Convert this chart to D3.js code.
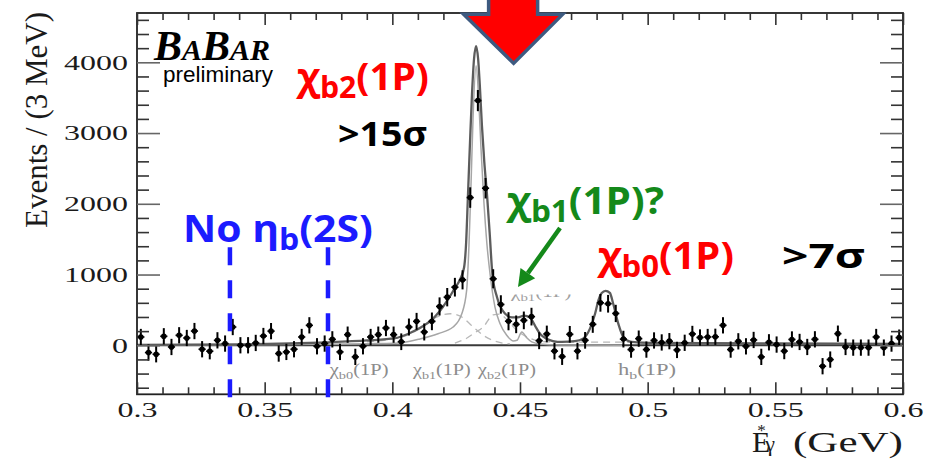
<!DOCTYPE html>
<html>
<head>
<meta charset="utf-8">
<script src="https://cdn.jsdelivr.net/npm/d3@7/dist/d3.min.js"></script>
<style>
  html, body { margin: 0; padding: 0; background: #fff; }
  svg { display: block; }
</style>
</head>
<body>
<svg id="chart" width="942" height="459"></svg>
<script>
// Photon energy spectrum, 3 MeV bins (bin centres in GeV), background subtracted
const energy = [
  0.3015,0.3045,0.3075,0.3105,0.3135,0.3165,0.3195,0.3225,0.3255,0.3285,
  0.3315,0.3345,0.3375,0.3405,0.3435,0.3465,0.3495,0.3525,0.3555,0.3585,
  0.3615,0.3645,0.3675,0.3705,0.3735,0.3765,0.3795,0.3825,0.3855,0.3885,
  0.3915,0.3945,0.3975,0.4005,0.4035,0.4065,0.4095,0.4125,0.4155,0.4185,
  0.4215,0.4245,0.4275,0.4305,0.4335,0.4365,0.4395,0.4425,0.4455,0.4485,
  0.4515,0.4545,0.4575,0.4605,0.4635,0.4665,0.4695,0.4725,0.4755,0.4785,
  0.4815,0.4845,0.4875,0.4905,0.4935,0.4965,0.4995,0.5025,0.5055,0.5085,
  0.5115,0.5145,0.5175,0.5205,0.5235,0.5265,0.5295,0.5325,0.5355,0.5385,
  0.5415,0.5445,0.5475,0.5505,0.5535,0.5565,0.5595,0.5625,0.5655,0.5685,
  0.5715,0.5745,0.5775,0.5805,0.5835,0.5865,0.5895,0.5925,0.5955,0.5985
];
const events = [
  117,-103,-127,127,-24,141,103,201,-56,-84,
  70,24,258,0,0,33,131,200,-117,-94,
  -56,117,282,-14,24,84,-94,150,-164,-14,
  117,150,244,150,50,258,338,188,338,549,
  680,821,925,2088,3459,2220,940,577,340,296,
  352,405,65,160,-82,-160,155,-82,70,296,
  600,587,450,87,-61,94,-61,68,40,58,
  -66,35,160,110,117,120,282,-61,56,-15,
  75,-164,42,10,-82,82,47,-24,84,-296,
  -202,164,-24,-33,-33,-33,117,-33,24,108
];
const errors = [
  115,115,115,115,115,115,115,115,115,115,
  115,115,115,115,115,115,115,115,115,115,
  115,115,115,115,115,115,115,115,115,115,
  115,115,115,115,118,120,120,120,125,128,
  130,132,135,145,150,145,135,130,128,125,
  125,125,120,118,118,118,118,118,118,120,
  125,125,122,118,115,115,115,115,115,115,
  115,115,115,115,115,115,115,115,115,115,
  115,115,115,115,115,115,115,115,115,115,
  115,115,115,115,115,115,115,115,115,115
];

// Fit curves sampled as [E (GeV), events]
const fitTotal = [
  [0.300,5],[0.320,8],[0.340,14],[0.360,25],[0.375,42],[0.390,68],[0.4010,100],
  [0.4061,160],[0.4093,215],[0.4124,280],[0.4151,350],[0.4183,470],[0.4213,620],
  [0.4242,790],[0.4265,930],[0.4281,1100],[0.4289,1450],[0.4296,2100],[0.4304,2850],
  [0.4312,3550],[0.4320,4050],[0.4328,4230],[0.4336,4050],[0.4343,3650],[0.4351,3100],
  [0.4360,2600],[0.4371,2120],[0.4381,1600],[0.4392,1000],[0.4410,680],[0.4441,450],
  [0.4469,395],[0.4492,395],[0.4516,420],[0.4539,390],[0.4563,250],[0.4578,165],
  [0.4602,95],[0.4629,60],[0.4664,47],[0.4715,58],[0.4747,94],[0.4774,235],[0.4794,446],
  [0.4807,634],[0.4820,740],[0.4835,770],[0.4852,740],[0.4865,587],[0.4885,305],
  [0.4905,117],[0.4937,47],[0.5009,33],[0.550,25],[0.600,20]
];
const fitSignal = [
  [0.300,3],[0.340,8],[0.370,14],[0.390,22],[0.4010,28],[0.4108,90],[0.4179,164],
  [0.4238,258],[0.4272,446],[0.4291,775],[0.4300,1400],[0.4308,2250],[0.4316,3200],
  [0.4328,3950],[0.4338,3500],[0.4347,2800],[0.4359,2000],[0.4370,1450],[0.4383,1000],
  [0.4402,540],[0.4422,305],[0.4448,141],[0.4474,61],[0.4488,70],[0.4507,188],
  [0.4526,108],[0.4546,47],[0.4578,18],[0.4657,5],[0.4900,2]
];
const fitBroad1 = [
  [0.390,50],[0.4030,110],[0.4095,211],[0.4160,376],[0.4226,446],[0.4272,399],
  [0.4317,258],[0.4356,141],[0.4409,50],[0.4461,20]
];
const fitBroad2 = [
  [0.4245,30],[0.4291,100],[0.4324,180],[0.4356,258],[0.4395,430],[0.4422,440],
  [0.4441,390],[0.4487,211],[0.4539,100],[0.4598,50],[0.4696,45],[0.4892,45],[0.5009,40]
];

const xTicksMajor = [0.3,0.35,0.4,0.45,0.5,0.55,0.6];
const xTickLabels = ["0.3","0.35","0.4","0.45","0.5","0.55","0.6"];
const xTicksMinor = [0.31,0.32,0.33,0.34,0.36,0.37,0.38,0.39,0.41,0.42,0.43,0.44,
                     0.46,0.47,0.48,0.49,0.51,0.52,0.53,0.54,0.56,0.57,0.58,0.59];
const yTicksMajor = [0,1000,2000,3000,4000];
const yTickLabels = ["0","1000","2000","3000","4000"];
const yTicksMinor = [-600,-400,-200,200,400,600,800,1200,1400,1600,1800,2200,2400,2600,
                     2800,3200,3400,3600,3800,4200,4400,4600];

// Search window for the eta_b(2S) line
const etaWindow = [0.3364, 0.3748];
// Expected line positions labelled under the zero line
const lineLabels = [
  { parts: [["χ"],["b0",1],["(1P)"]], e: 0.3755, w: 60 },
  { parts: [["χ"],["b1",1],["(1P)"]], e: 0.4081, w: 59 },
  { parts: [["χ"],["b2",1],["(1P)"]], e: 0.4336, w: 59 },
  { parts: [["h"],["b",1],["(1P)"]], e: 0.4884, w: 58 }
];

const svg = d3.select("#chart");
const L = 137, R = 903, T = 13, B = 394.3;
const x = d3.scaleLinear().domain([0.3, 0.6]).range([L, R]);
const y = d3.scaleLinear().domain([-693, 4697]).range([B, T]);

const serif = "'Liberation Serif', 'Times New Roman', serif";
const sans = "'Open Sans', 'Liberation Sans', sans-serif";

// Text with subscripts; optionally squeezed/stretched to a given width
function richText(g, s) {
  const t = g.append("text")
    .attr("x", s.x).attr("y", s.y)
    .attr("font-family", s.font).attr("font-weight", s.weight || "normal")
    .attr("font-style", s.style || "normal")
    .attr("font-size", s.size).attr("fill", s.color);
  let shift = 0;
  s.parts.forEach(([str, sub]) => {
    const ts = t.append("tspan").text(str)
      .attr("font-size", sub ? s.size * s.subScale : s.size);
    const want = sub ? s.subShift : 0;
    if (want !== shift) { ts.attr("dy", want - shift); shift = want; }
  });
  if (s.w) {
    const w = t.node().getBBox().width;
    const k = s.w / w;
    t.attr("transform", `translate(${s.x},0) scale(${k},1) translate(${-s.x},0)`);
  }
  return t;
}

const line = d3.line().x(d => x(d[0])).y(d => y(d[1])).curve(d3.curveMonotoneX);

// zero line
svg.append("line")
  .attr("x1", L).attr("x2", R).attr("y1", y(0)).attr("y2", y(0))
  .attr("stroke", "#3a3a3a").attr("stroke-width", 2);

// fit components
[fitBroad1, fitBroad2].forEach(c => {
  svg.append("path").attr("d", line(c)).attr("fill", "none")
    .attr("stroke", "#b8b8b8").attr("stroke-width", 1.3).attr("stroke-dasharray", "7,5");
});
svg.append("path").attr("d", line(fitSignal)).attr("fill", "none")
  .attr("stroke", "#a6a6a6").attr("stroke-width", 1.5);
svg.append("path").attr("d", line(fitTotal)).attr("fill", "none")
  .attr("stroke", "#5c5c5c").attr("stroke-width", 2.3);

// data points with error bars
const pts = svg.append("g").selectAll("g")
  .data(energy.map((e, i) => ({ e, v: events[i], s: errors[i] })))
  .join("g");
pts.append("line")
  .attr("x1", d => x(d.e)).attr("x2", d => x(d.e))
  .attr("y1", d => y(d.v - d.s)).attr("y2", d => y(d.v + d.s))
  .attr("stroke", "#000").attr("stroke-width", 2);
pts.append("line")
  .attr("x1", d => x(d.e) - 3.6).attr("x2", d => x(d.e) + 3.6)
  .attr("y1", d => y(d.v)).attr("y2", d => y(d.v))
  .attr("stroke", "#000").attr("stroke-width", 1.6);
pts.append("circle")
  .attr("cx", d => x(d.e)).attr("cy", d => y(d.v)).attr("r", 2.8).attr("fill", "#000");

// frame and ticks on all four sides
svg.append("rect").attr("x", L).attr("y", T).attr("width", R - L).attr("height", B - T)
  .attr("fill", "none").attr("stroke", "#222").attr("stroke-width", 1.8);

function styleAxis(g) {
  g.select(".domain").remove();
  g.selectAll(".tick line").attr("stroke", "#333").attr("stroke-width", 1.6);
}
svg.append("g").attr("transform", `translate(0,${B})`)
  .call(d3.axisBottom(x).tickValues(xTicksMinor).tickSize(-7).tickFormat("")).call(styleAxis);
svg.append("g").attr("transform", `translate(0,${T})`)
  .call(d3.axisTop(x).tickValues(xTicksMinor).tickSize(-7).tickFormat("")).call(styleAxis);
svg.append("g").attr("transform", `translate(0,${T})`)
  .call(d3.axisTop(x).tickValues(xTicksMajor).tickSize(-12).tickFormat("")).call(styleAxis);
const xAxis = svg.append("g").attr("transform", `translate(0,${B})`)
  .call(d3.axisBottom(x).tickValues(xTicksMajor).tickSize(-12)
    .tickFormat((d, i) => xTickLabels[i])).call(styleAxis);
xAxis.selectAll("text").attr("y", 0).attr("dy", 0)
  .attr("transform", "translate(0,23) scale(1.6,1)")
  .attr("font-family", serif).attr("font-size", 20).attr("fill", "#1a1a1a");

svg.append("g").attr("transform", `translate(${L},0)`)
  .call(d3.axisLeft(y).tickValues(yTicksMinor).tickSize(-12).tickFormat("")).call(styleAxis);
svg.append("g").attr("transform", `translate(${R},0)`)
  .call(d3.axisRight(y).tickValues(yTicksMinor).tickSize(-12).tickFormat("")).call(styleAxis);
svg.append("g").attr("transform", `translate(${R},0)`)
  .call(d3.axisRight(y).tickValues(yTicksMajor).tickSize(-23).tickFormat("")).call(styleAxis)
  .selectAll(".tick line").attr("stroke", "#666");
const yAxis = svg.append("g").attr("transform", `translate(${L},0)`)
  .call(d3.axisLeft(y).tickValues(yTicksMajor).tickSize(-23)
    .tickFormat((d, i) => yTickLabels[i])).call(styleAxis);
yAxis.selectAll(".tick line").attr("stroke", "#666");
yAxis.selectAll("text").attr("x", 0).attr("dy", "0.34em")
  .attr("transform", "translate(-9,0) scale(1.6,1)")
  .attr("font-family", serif).attr("font-size", 20).attr("fill", "#1a1a1a");

// axis titles
svg.append("text").attr("transform", "translate(47,120) rotate(-90)")
  .attr("text-anchor", "middle").attr("font-family", serif).attr("font-size", 31)
  .attr("fill", "#1a1a1a").text("Events / (3 MeV)");
const xTitle = svg.append("text").attr("x", 752).attr("y", 452)
  .attr("font-family", serif).attr("fill", "#1a1a1a");
xTitle.append("tspan").attr("font-size", 30).text("E");
xTitle.append("tspan").attr("font-size", 17).attr("dx", -13).attr("dy", -16).text("*");
xTitle.append("tspan").attr("font-size", 22).attr("dx", -0.5).attr("dy", 15).text("γ");
richText(svg, { x: 793, y: 452, w: 110, font: serif, size: 30, color: "#1a1a1a",
  parts: [["(GeV)"]] });

// expected line labels (grey)
lineLabels.forEach(l => richText(svg, {
  x: x(l.e), y: 375, w: l.w, font: serif, size: 16, color: "#8c8c8c",
  subScale: 0.7, subShift: 4, parts: l.parts
}));
// label partly hidden behind a blank patch
svg.append("clipPath").attr("id", "hidePatch")
  .append("rect").attr("x", 500).attr("y", 294.5).attr("width", 90).attr("height", 8);
richText(svg.append("g").attr("clip-path", "url(#hidePatch)"), {
  x: 511, y: 297, w: 62, font: serif, size: 16, color: "#a0a0a0",
  subScale: 0.7, subShift: 4, parts: [["χ"],["b1",1],["(1P)"]]
});

// experiment logo
const logo = svg.append("text").attr("x", 154).attr("y", 60)
  .attr("font-family", serif).attr("font-weight", "bold").attr("font-style", "italic")
  .attr("fill", "#000");
[["B",42],["A",30],["B",42],["AR",30]].forEach(([s, fs]) =>
  logo.append("tspan").attr("font-size", fs).text(s));
svg.append("text").attr("x", 163).attr("y", 82)
  .attr("font-family", "'Liberation Sans', Arial, sans-serif").attr("font-size", 22.5)
  .attr("fill", "#000").text("preliminary");

// eta_b(2S) window markers
etaWindow.forEach(e => {
  svg.append("line").attr("x1", x(e)).attr("x2", x(e))
    .attr("y1", y(1385)).attr("y2", B + 3)
    .attr("stroke", "#1b1bff").attr("stroke-width", 4.5).attr("stroke-dasharray", "18,15");
});

// annotations
const notes = [
  { parts: [["χ"],["b2",1],["(1P)"]], x: 297, y: 90, w: 133, color: "#ff0000" },
  { parts: [[">15σ"]], x: 338, y: 146, w: 89, color: "#000000", size: 34 },
  { parts: [["χ"],["b1",1],["(1P)?"]], x: 507, y: 214, w: 158, color: "#14891a" },
  { parts: [["No η"],["b",1],["(2S)"]], x: 183, y: 242, w: 190, color: "#1b1bff" },
  { parts: [["χ"],["b0",1],["(1P)"]], x: 598, y: 269, w: 137, color: "#ff0000" },
  { parts: [[">7σ"]], x: 782, y: 268, w: 83, color: "#000000", size: 34 }
];
notes.forEach(n => richText(svg, {
  x: n.x, y: n.y, w: n.w, font: sans, weight: 700, size: n.size || 38,
  color: n.color, subScale: 0.78, subShift: 8, parts: n.parts
}));

// green pointer to the chi_b1 position
const gStart = [x(0.46567), y(1658)], gTip = [x(0.44922), y(824)];
const ang = Math.atan2(gTip[1] - gStart[1], gTip[0] - gStart[0]);
const hl = 17, hw = 9;
const base = [gTip[0] - hl * Math.cos(ang), gTip[1] - hl * Math.sin(ang)];
svg.append("line").attr("x1", gStart[0]).attr("y1", gStart[1])
  .attr("x2", base[0]).attr("y2", base[1])
  .attr("stroke", "#14891a").attr("stroke-width", 4.5);
svg.append("polygon").attr("fill", "#14891a").attr("points", [
  gTip,
  [base[0] + hw * Math.sin(ang), base[1] - hw * Math.cos(ang)],
  [base[0] - hw * Math.sin(ang), base[1] + hw * Math.cos(ang)]
].map(p => p.join(",")).join(" "));

// big arrow over the peak
const tip = [x(0.4475), y(3985)];
const arrow = [[-25,-72],[24,-72],[24,-49],[49,-49],[0,0],[-50,-49],[-25,-49]];
svg.append("polygon")
  .attr("points", arrow.map(([dx, dy]) => [tip[0] + dx, tip[1] + dy].join(",")).join(" "))
  .attr("fill", "#ff0000").attr("stroke", "#3d5a80").attr("stroke-width", 3.5)
  .attr("stroke-linejoin", "miter");
</script>
</body>
</html>
